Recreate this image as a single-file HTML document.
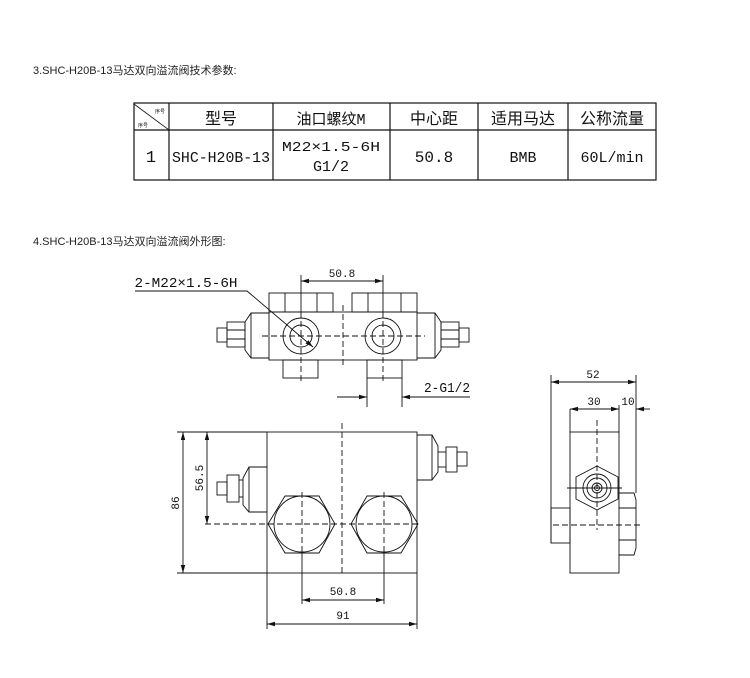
<!DOCTYPE html>
<html><head><meta charset="utf-8"><style>
html,body{margin:0;padding:0;background:#fff;width:750px;height:678px;overflow:hidden}
svg{display:block}
.t{font-family:"Liberation Sans","Noto Sans CJK SC",sans-serif;font-size:11px;fill:#222}
.d{font-family:"Liberation Mono","Noto Sans CJK SC",monospace;fill:#111}
</style></head><body>
<svg width="750" height="678" viewBox="0 0 750 678" xmlns="http://www.w3.org/2000/svg">
<text class="t" x="33" y="74">3.SHC-H20B-13马达双向溢流阀技术参数:</text>
<text class="t" x="33" y="245">4.SHC-H20B-13马达双向溢流阀外形图:</text>

<!-- table -->
<g stroke="#111" fill="none" stroke-width="1.2">
<rect x="134" y="103" width="522" height="77"/>
<line x1="134" y1="130" x2="656" y2="130"/>
<line x1="169" y1="103" x2="169" y2="180"/>
<line x1="273" y1="103" x2="273" y2="180"/>
<line x1="390" y1="103" x2="390" y2="180"/>
<line x1="478" y1="103" x2="478" y2="180"/>
<line x1="568" y1="103" x2="568" y2="180"/>
<line x1="134" y1="104" x2="169" y2="130" stroke-width="0.8"/>
</g>
<g class="d" font-size="16" text-anchor="middle">
<text x="221" y="124" font-family="Noto Sans CJK SC">型号</text>
<text x="331" y="124" font-size="15">油口螺纹M</text>
<text x="434" y="124">中心距</text>
<text x="523" y="124">适用马达</text>
<text x="612" y="124">公称流量</text>
<text x="151" y="162" font-size="17">1</text>
<text x="221" y="162" font-size="15" textLength="98" lengthAdjust="spacingAndGlyphs">SHC-H20B-13</text>
<text x="331" y="151" font-size="14" textLength="98" lengthAdjust="spacingAndGlyphs">M22×1.5-6H</text>
<text x="331" y="171" font-size="15">G1/2</text>
<text x="434" y="162" font-size="16">50.8</text>
<text x="523" y="162" font-size="15">BMB</text>
<text x="612" y="162" font-size="15">60L/min</text>
<text x="160" y="113" font-size="5">序号</text>
<text x="143" y="127" font-size="5">序号</text>
</g>

<defs><marker id="a" markerWidth="8" markerHeight="6" refX="8" refY="3" orient="auto-start-reverse" markerUnits="userSpaceOnUse"><path d="M0,0.8L8,3L0,5.2z" fill="#111"/></marker></defs>

<g stroke="#111" fill="none" stroke-width="0.9">
<!-- front top view -->
<rect x="269" y="293" width="64" height="19"/>
<line x1="285" y1="293" x2="285" y2="312"/><line x1="317" y1="293" x2="317" y2="312"/>
<rect x="352" y="293" width="65" height="19"/>
<line x1="368" y1="293" x2="368" y2="312"/><line x1="401" y1="293" x2="401" y2="312"/>
<rect x="269" y="312" width="148" height="48"/>
<path d="M269,313 L251,313 L245,322 L245,350 L251,358 L269,358"/>
<line x1="251" y1="313" x2="251" y2="358"/>
<rect x="227" y="322" width="18" height="25"/><line x1="227" y1="330" x2="245" y2="330"/><line x1="227" y1="339" x2="245" y2="339"/>
<rect x="217" y="328" width="10" height="14"/>
<path d="M417,313 L435,313 L441,322 L441,350 L435,358 L417,358"/>
<line x1="435" y1="313" x2="435" y2="358"/>
<rect x="441" y="322" width="18" height="25"/><line x1="441" y1="330" x2="459" y2="330"/><line x1="441" y1="339" x2="459" y2="339"/>
<rect x="459" y="328" width="10" height="14"/>
<circle cx="301" cy="336" r="18"/><circle cx="301" cy="336" r="11"/>
<circle cx="383" cy="336" r="18"/><circle cx="383" cy="336" r="11"/>
<rect x="283" y="360" width="35" height="18"/><rect x="367" y="360" width="35" height="18"/>
<g stroke-dasharray="6,3">
<line x1="262" y1="336" x2="425" y2="336"/>
<line x1="343" y1="305" x2="343" y2="365"/>
<line x1="301" y1="312" x2="301" y2="382"/>
<line x1="383" y1="312" x2="383" y2="382"/>
</g>
<line x1="301" y1="275" x2="301" y2="312"/><line x1="383" y1="275" x2="383" y2="312"/>
<line x1="301" y1="281" x2="383" y2="281" marker-start="url(#a)" marker-end="url(#a)"/>
<path d="M135,291 L247,291 L313,347" marker-end="url(#a)"/>
<line x1="367" y1="378" x2="367" y2="407"/><line x1="402" y1="378" x2="402" y2="407"/>
<line x1="337" y1="397" x2="367" y2="397" marker-end="url(#a)"/>
<line x1="470" y1="397" x2="402" y2="397" marker-end="url(#a)"/>

<!-- front main view -->
<rect x="267" y="432" width="150" height="141"/>
<path d="M417,435 L432,435 L438,446 L438,472 L432,480 L417,480"/>
<line x1="432" y1="435" x2="432" y2="480"/>
<rect x="446" y="447" width="11" height="25"/><line x1="438" y1="452" x2="446" y2="452"/><line x1="438" y1="467" x2="446" y2="467"/>
<rect x="457" y="452" width="10" height="14"/>
<path d="M267,467 L249,467 L243,478 L243,505 L249,512 L267,512"/>
<line x1="249" y1="467" x2="249" y2="512"/>
<rect x="227" y="475" width="12" height="27"/><line x1="239" y1="480" x2="243" y2="480"/><line x1="239" y1="497" x2="243" y2="497"/>
<rect x="217" y="482" width="10" height="13"/>
<polygon points="268,524 285,496 319,496 335,524 319,553 285,553"/><circle cx="302" cy="524" r="28"/>
<polygon points="351,524 367,496 401,496 418,524 401,553 367,553"/><circle cx="384" cy="524" r="28"/>
<g stroke-dasharray="6,3">
<line x1="342" y1="423" x2="342" y2="575"/>
<line x1="205" y1="524" x2="417" y2="524"/>
<line x1="302" y1="492" x2="302" y2="556"/>
<line x1="384" y1="492" x2="384" y2="556"/>
</g>
<line x1="177" y1="432" x2="267" y2="432"/><line x1="177" y1="573" x2="267" y2="573"/>
<line x1="183" y1="432" x2="183" y2="573" marker-start="url(#a)" marker-end="url(#a)"/>
<line x1="207" y1="432" x2="207" y2="524" marker-start="url(#a)" marker-end="url(#a)"/>
<line x1="302" y1="553" x2="302" y2="604"/><line x1="384" y1="553" x2="384" y2="604"/>
<line x1="302" y1="600" x2="384" y2="600" marker-start="url(#a)" marker-end="url(#a)"/>
<line x1="267" y1="573" x2="267" y2="629"/><line x1="417" y1="573" x2="417" y2="629"/>
<line x1="267" y1="624" x2="417" y2="624" marker-start="url(#a)" marker-end="url(#a)"/>

<!-- side view -->
<rect x="570" y="432" width="49" height="141"/>
<line x1="570" y1="409" x2="570" y2="432"/><line x1="619" y1="405" x2="619" y2="432"/>
<line x1="551" y1="375" x2="551" y2="543"/><line x1="636" y1="375" x2="636" y2="493"/>
<line x1="551" y1="382" x2="636" y2="382" marker-start="url(#a)" marker-end="url(#a)"/>
<line x1="570" y1="409" x2="619" y2="409" marker-start="url(#a)" marker-end="url(#a)"/>
<line x1="650" y1="409" x2="636" y2="409" marker-end="url(#a)"/>
<polygon points="597,466 618,477 618,499 597,510 576,499 576,477"/>
<circle cx="597" cy="488" r="14"/><circle cx="597" cy="488" r="10"/><circle cx="597" cy="488" r="5"/><circle cx="597" cy="488" r="2.5"/>
<line x1="567" y1="488" x2="622" y2="488"/>
<rect x="551" y="508" width="19" height="35"/>
<path d="M619,493 L634,493 L636,500 L636,548 L634,555 L619,555"/>
<line x1="619" y1="508" x2="636" y2="508"/><line x1="619" y1="540" x2="636" y2="540"/>
<g stroke-dasharray="6,3">
<line x1="597" y1="420" x2="597" y2="530"/>
<line x1="553" y1="525" x2="643" y2="525"/>
</g>
</g>

<g class="d" font-size="12" text-anchor="middle">
<text x="186" y="287" font-size="14" textLength="103" lengthAdjust="spacingAndGlyphs">2-M22×1.5-6H</text>
<text x="342" y="277" font-size="11">50.8</text>
<text x="447" y="392" font-size="14" textLength="46" lengthAdjust="spacingAndGlyphs">2-G1/2</text>
<text x="343" y="595" font-size="11">50.8</text>
<text x="343" y="619" font-size="11">91</text>
<text x="593" y="378" font-size="11">52</text>
<text x="594" y="405" font-size="11">30</text>
<text x="628" y="405" font-size="11">10</text>
<text transform="translate(179,503) rotate(-90)" font-size="11">86</text>
<text transform="translate(203,478) rotate(-90)" font-size="11">56.5</text>
</g>
</svg>
</body></html>
